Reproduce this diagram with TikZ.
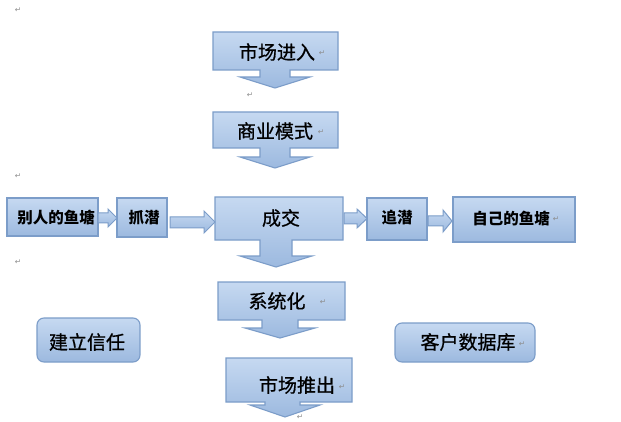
\documentclass[tikz,border=0pt]{standalone}
\usepackage{fontspec}
\newfontfamily\cjk{Noto Sans CJK SC}
\newfontfamily\cjkm[FakeBold=0.7]{Noto Sans CJK SC}
\newfontfamily\symf{DejaVu Sans}
\definecolor{boxtop}{HTML}{C6D9F1}
\definecolor{boxbot}{HTML}{9CB9DF}
\definecolor{boxline}{HTML}{7C9DC9}
\definecolor{pmark}{HTML}{8C8C8C}
\tikzset{
  blk/.style={draw=boxline, line width=1.1pt, top color=boxtop, bottom color=boxbot},
  bigtxt/.style={font=\cjkm\fontsize{19}{19}\selectfont, text=black, inner sep=0pt},
  boldtxt/.style={font=\cjk\bfseries\fontsize{15.5}{15.5}\selectfont, text=black, inner sep=0pt},
  pm/.style={font=\symf\fontsize{7.5}{7.5}\selectfont, text=pmark, inner sep=0pt}
}
% callout: x1,y1,x2,y2, stem left, stem right, head left, head right, head top, tip y (\tipy)
\newcommand\mycallout[9]{%
  \path[blk] (#1,#2) -- (#3,#2) -- (#3,#4) -- (#6,#4) -- (#6,#9)
     -- (#8,#9) -- ({(#7+#8)/2},\tipy) -- (#7,#9) -- (#5,#9) -- (#5,#4) -- (#1,#4) -- cycle;}
% horizontal block arrow: x1,x2,head x, stem y1,y2, head y1,y2
\newcommand\myharrow[7]{%
  \path[blk, line width=1pt] (#1,#4) -- (#3,#4) -- (#3,#6) -- (#2,{(#6+#7)/2})
     -- (#3,#7) -- (#3,#5) -- (#1,#5) -- cycle;}
\begin{document}
\begin{tikzpicture}[x=1pt,y=-1pt]
\useasboundingbox (0,0) rectangle (621,422);
\fill[white] (0,0) rectangle (621,422);

% callouts
\def\tipy{88}\mycallout{213}{32}{338}{70}{260}{290}{240}{310}{77}
\def\tipy{168}\mycallout{213}{112}{338}{148}{260}{290}{240}{310}{157}
\def\tipy{267}\mycallout{215}{197}{343}{240}{260}{292}{240}{312}{256}
\def\tipy{338}\mycallout{218}{282}{345}{320}{262}{298}{245}{315}{328}
\def\tipy{417}\mycallout{226}{358}{352}{402}{265}{300}{250}{320}{405}

% plain boxes
\path[blk] (7,198) rectangle (98,236);
\path[blk] (117,198) rectangle (167,237);
\path[blk] (367,198) rectangle (427,240);
\path[blk] (453,197) rectangle (575,242);
\path[blk, rounded corners=7pt] (37,318) rectangle (140,362);
\path[blk, rounded corners=7pt] (395,323) rectangle (535,362);

% horizontal arrows
\myharrow{98}{117}{108}{213}{223}{209}{227}
\myharrow{170}{215}{204}{217}{228}{211}{233}
\myharrow{344}{367}{357}{213}{224}{209}{228}
\myharrow{428}{452}{443}{216}{226}{210}{232}

% texts
\node[bigtxt] (t1) at (277,52) {市场进入};
\node[bigtxt] (t2) at (275,131) {商业模式};
\node[bigtxt] (t3) at (281,218) {成交};
\node[bigtxt] (t4) at (277,301) {系统化};
\node[bigtxt] (t5) at (297,385) {市场推出};
\node[boldtxt] (t6) at (56,218) {别人的鱼塘};
\node[boldtxt] (t7) at (144,218) {抓潜};
\node[boldtxt] (t8) at (397,218) {追潜};
\node[boldtxt] (t9) at (511,218) {自己的鱼塘};
\node[bigtxt] (t10) at (87,342) {建立信任};
\node[bigtxt] (t11) at (468,342) {客户数据库};

% paragraph marks
\node[pm] (p1) at (18,10) {↵};
\node[pm] (p2) at (322,53) {↵};
\node[pm] (p3) at (250,95) {↵};
\node[pm] (p4) at (321,132) {↵};
\node[pm] (p5) at (18,176) {↵};
\node[pm] (p6) at (556,219) {↵};
\node[pm] (p7) at (18,262) {↵};
\node[pm] (p8) at (323,302) {↵};
\node[pm] (p9) at (342,387) {↵};
\node[pm] (p10) at (522,344) {↵};
\node[pm] (p11) at (300,417) {↵};
\end{tikzpicture}
\end{document}
